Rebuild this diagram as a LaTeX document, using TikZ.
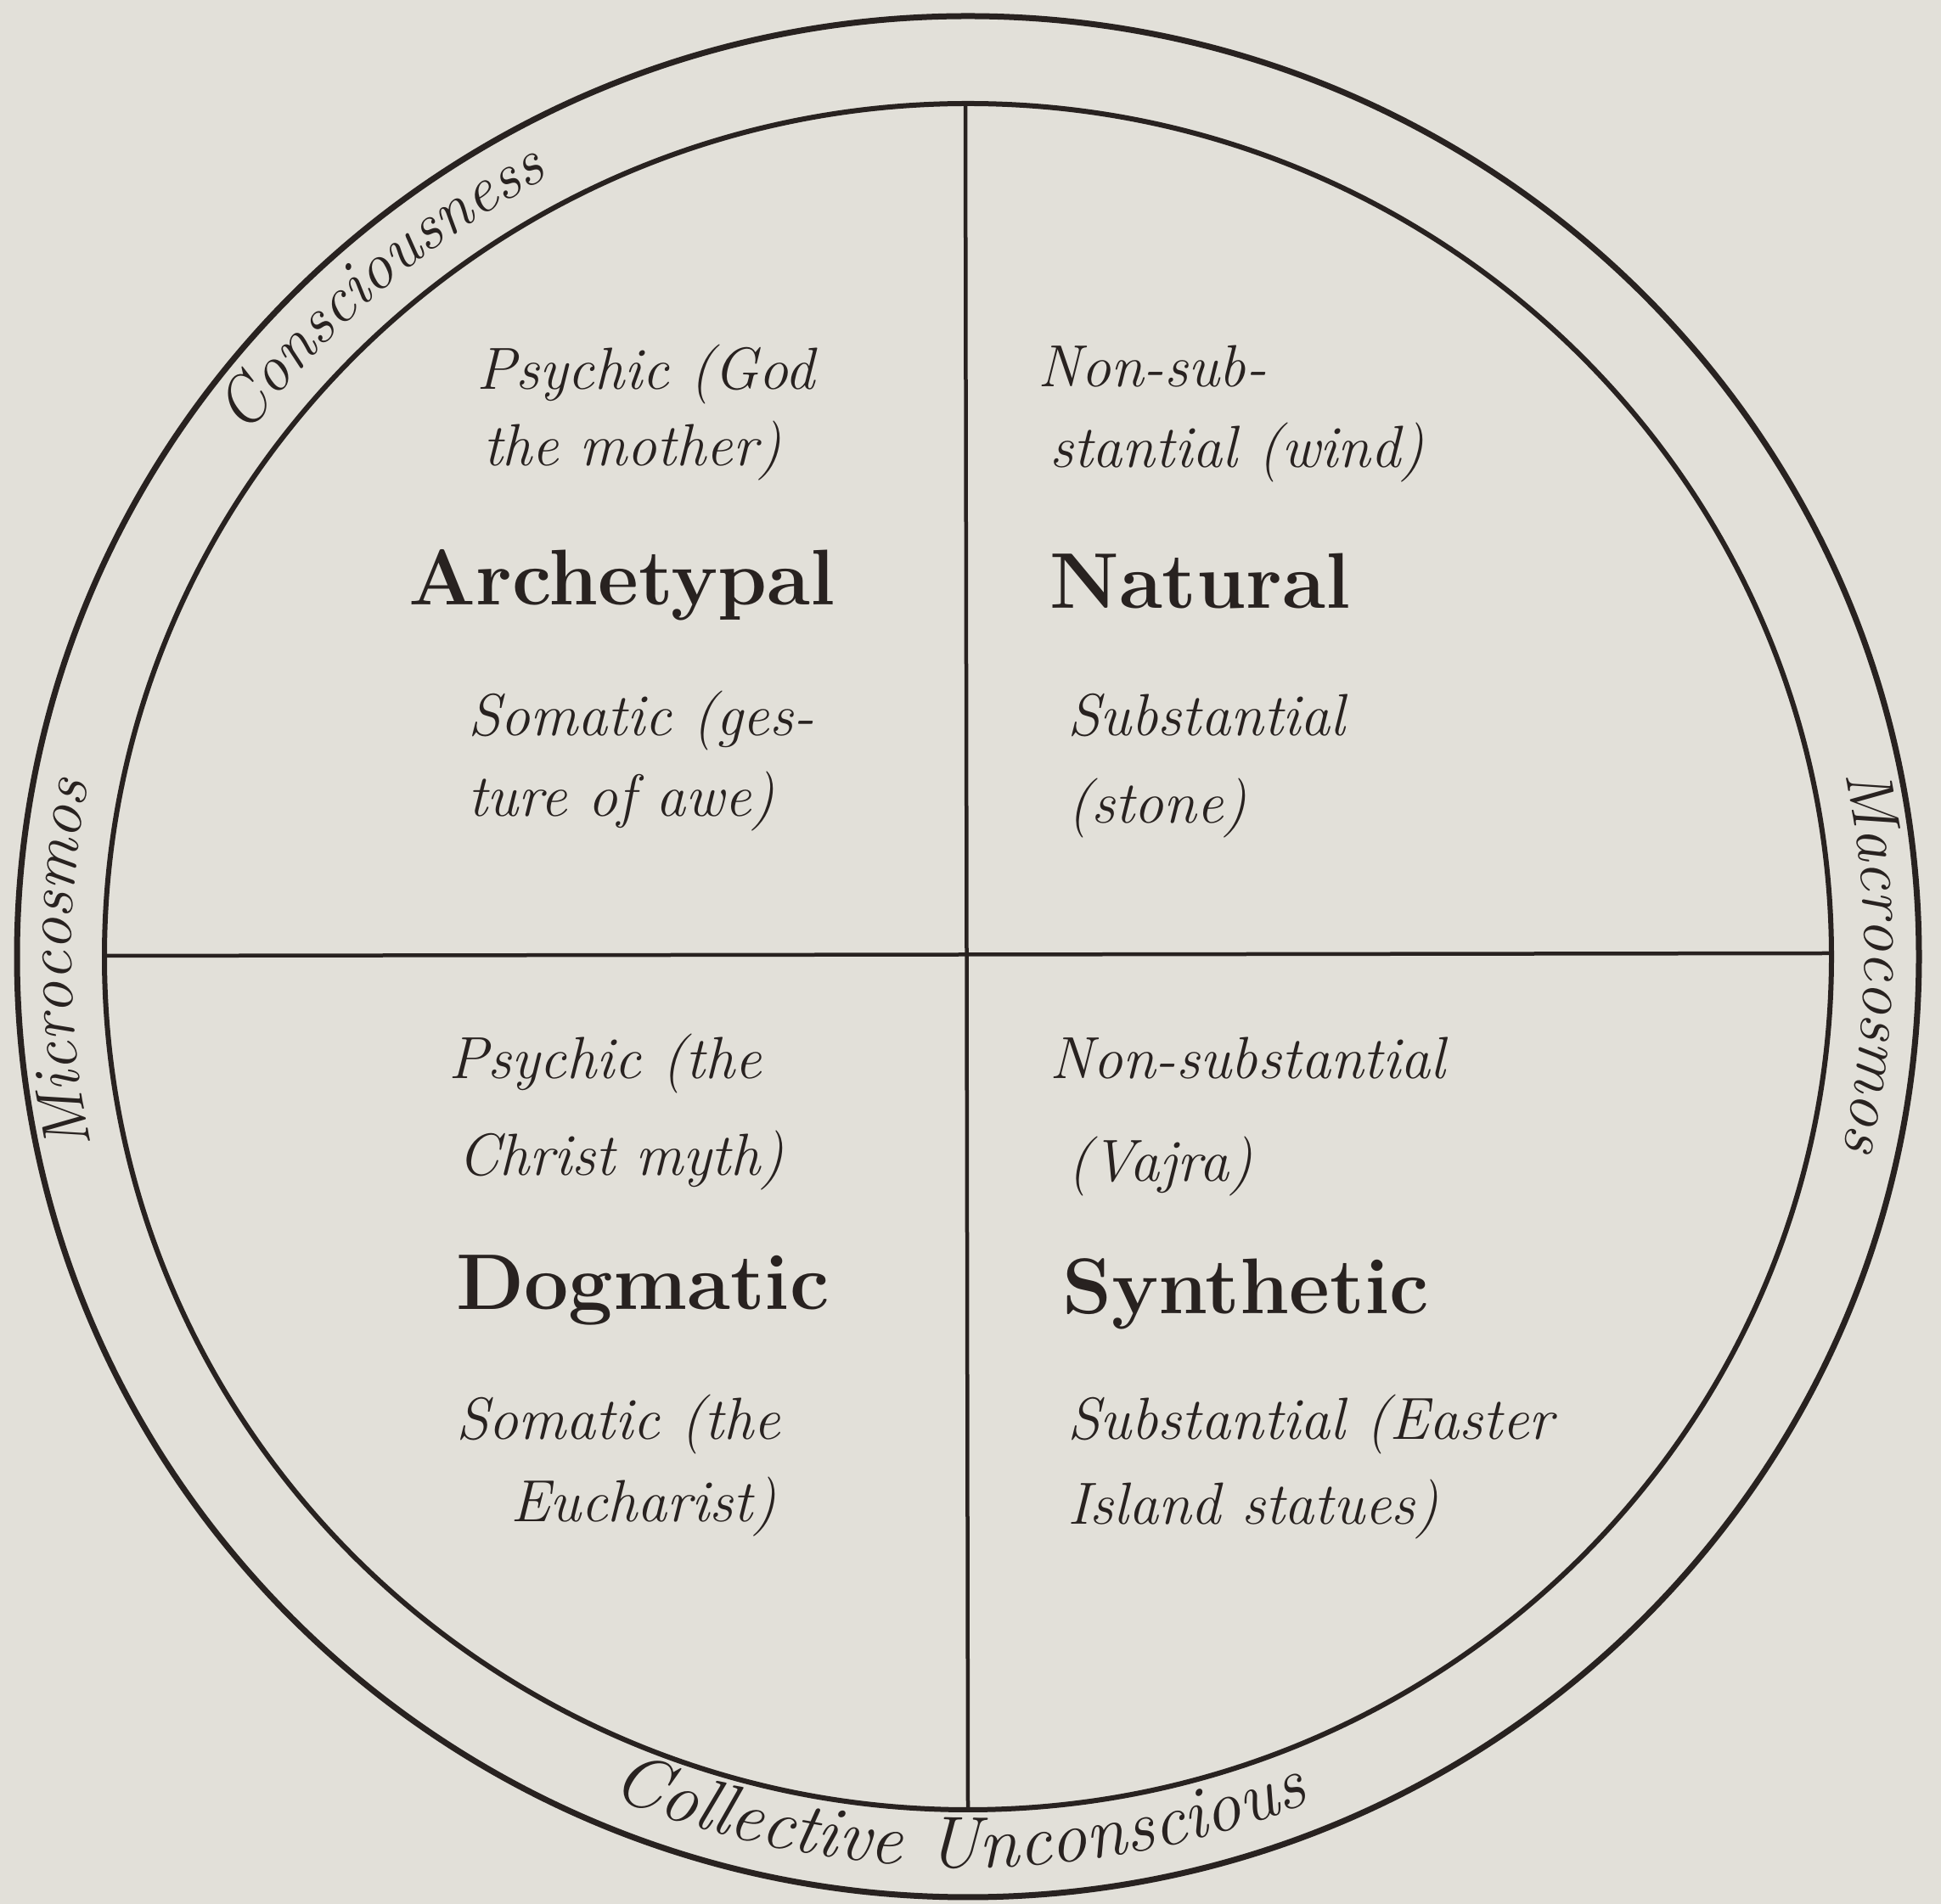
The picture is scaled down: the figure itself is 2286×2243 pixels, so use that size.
\documentclass[tikz,border=0pt]{standalone}
\usepackage{fontspec}
\usetikzlibrary{decorations.text}
\definecolor{ink}{RGB}{40,34,32}
\definecolor{paper}{RGB}{226,224,217}
\newcommand\quadfont{\itshape\fontsize{70}{74}\selectfont}
\newcommand\heavyfont{\bfseries\fontsize{93}{98}\selectfont}
\newcommand\ringfont{\itshape\fontsize{77}{80}\selectfont}
\newcommand\bottomringfont{\itshape\fontsize{86}{90}\selectfont}
\begin{document}
\begin{tikzpicture}[x=1pt,y=1pt,
  small/.style={anchor=base west, inner sep=0pt, text=ink, font=\quadfont},
  heavy/.style={anchor=base west, inner sep=0pt, text=ink, font=\heavyfont},
  divider/.style={draw=ink, line width=4.5}]
\fill[paper] (0,0) rectangle (2286,2243);
\useasboundingbox (0,0) rectangle (2286,2243);
\coordinate (c) at (1140,1116);
\draw[ink, line width=7] (c) ellipse [x radius=1120, y radius=1108];
\draw[ink, line width=6] (c) ellipse [x radius=1017, y radius=1005];
\coordinate (vtop) at (1137,2121);
\coordinate (vbot) at (1140,112);
\coordinate (hleft) at (122,1117);
\coordinate (hright) at (2156,1120);
\draw[divider] (vtop) -- (vbot);
\draw[divider] (hleft) -- (hright);
% ring texts
\begin{scope}[shift={(1140,1116)}]
\path[decorate, decoration={text along path, text align=center, text color=ink, text={|\ringfont|Consciousness}}]
  (160:1052 and 1040) arc[start angle=160, end angle=102, x radius=1052, y radius=1040];
\path[decorate, decoration={text along path, text align=center, text color=ink, text={|\ringfont|Microcosmos}}]
  (210:1056 and 1044) arc[start angle=210, end angle=151, x radius=1056, y radius=1044];
\path[decorate, decoration={text along path, text align=center, text color=ink, text={|\ringfont|Macrocosmos}}]
  (29.7:1056 and 1044) arc[start angle=29.7, end angle=-30.3, x radius=1056, y radius=1044];
\path[decorate, decoration={text along path, text align=center, text color=ink, text={|\bottomringfont|Collective Unconscious}}]
  (-130.6:1085 and 1073) arc[start angle=-130.6, end angle=-50.6, x radius=1085, y radius=1073];
\end{scope}
% top-left quadrant
\node[small] (tl1) at (561,1784) {Psychic (God};
\node[small] (tl2) at (569,1694) {the mother)};
\node[heavy] (tlh) at (481,1530) {Archetypal};
\node[small] (tl3) at (551,1376) {Somatic (ges-};
\node[small] (tl4) at (551,1281) {ture of awe)};
% top-right quadrant
\node[small] (tr1) at (1222,1787) {Non-sub-};
\node[small] (tr2) at (1236,1692) {stantial (wind)};
\node[heavy] (trh) at (1236,1526) {Natural};
\node[small] (tr3) at (1257,1376) {Substantial};
\node[small] (tr4) at (1257,1273) {(stone)};
% bottom-left quadrant
\node[small] (bl1) at (528,972) {Psychic (the};
\node[small] (bl2) at (539,858) {Christ myth)};
\node[heavy] (blh) at (537,700) {Dogmatic};
\node[small] (bl3) at (537,547) {Somatic (the};
\node[small] (bl4) at (601,450) {Eucharist)};
% bottom-right quadrant
\node[small] (br1) at (1236,972) {Non-substantial};
\node[small] (br2) at (1257,851) {(Vajra)};
\node[heavy] (brh) at (1251,695) {Synthetic};
\node[small] (br3) at (1257,547) {Substantial (Easter};
\node[small] (br4) at (1257,447) {Island statues)};
\end{tikzpicture}
\end{document}
